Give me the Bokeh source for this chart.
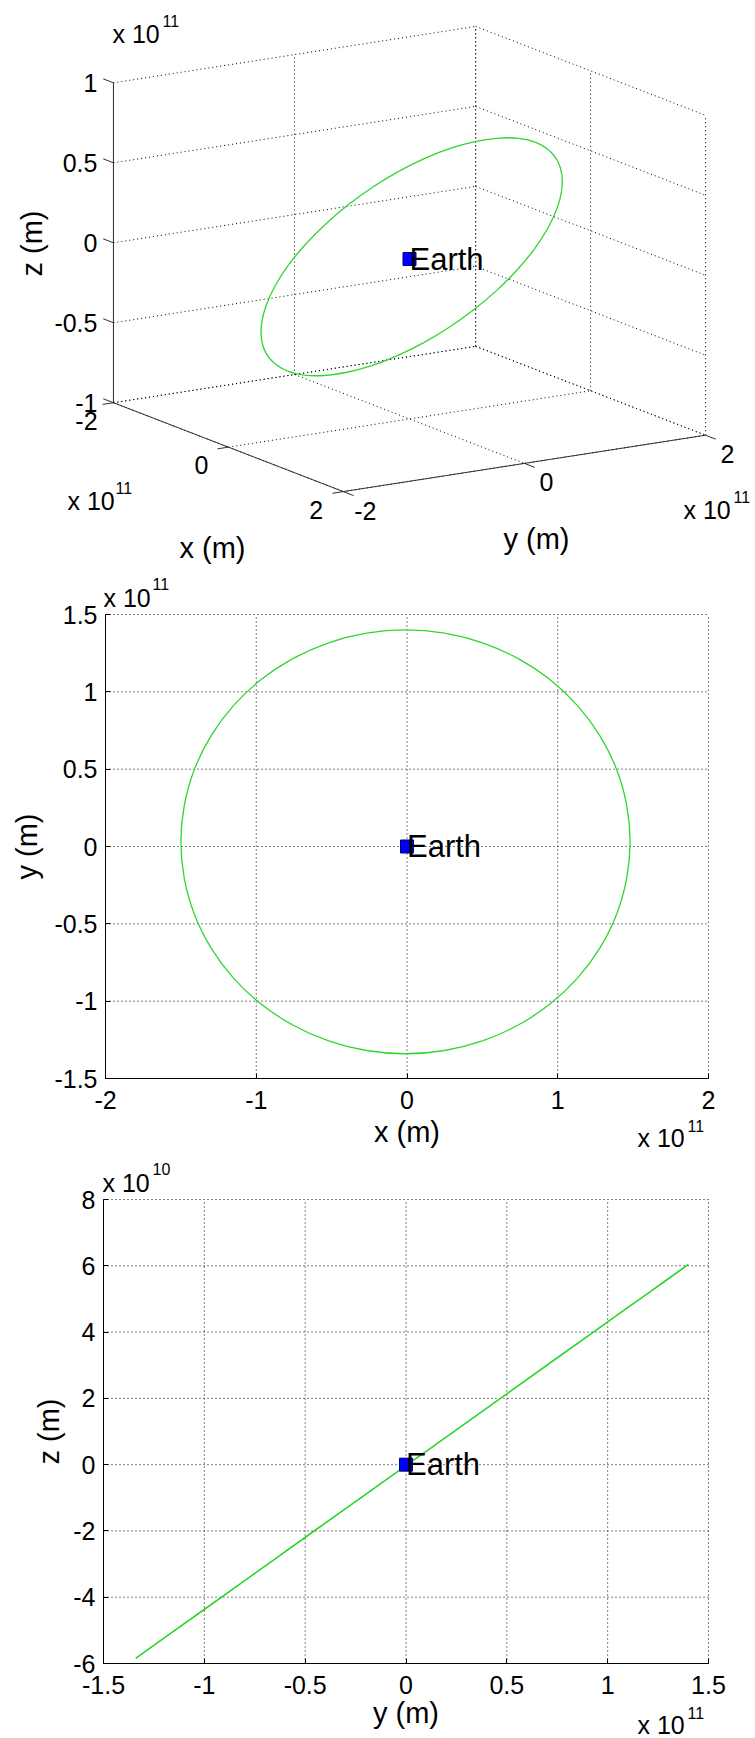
import math

from bokeh.core.properties import value
from bokeh.embed import file_html
from bokeh.layouts import column
from bokeh.models import FixedTicker, LinearAxis, Range1d
from bokeh.plotting import figure
from bokeh.resources import INLINE

FONT = "Liberation Sans"
GREEN = "#2ed62e"
BLUE = "#0000ff"

# Apparent path of the Sun around the Earth, geocentric equatorial frame,
# one position every ~10 degrees of arc (units of 1e11 m)
ORBIT_X = [1.480, 1.457, 1.390, 1.280, 1.131, 0.948, 0.735, 0.500, 0.249,
           -0.010, -0.269, -0.520, -0.755, -0.968, -1.151, -1.300, -1.410, -1.477,
           -1.500, -1.477, -1.410, -1.300, -1.151, -0.968, -0.755, -0.520, -0.269,
           -0.010, 0.249, 0.500, 0.735, 0.948, 1.131, 1.280, 1.390, 1.457]
ORBIT_Y = [0.030, 0.268, 0.499, 0.715, 0.911, 1.079, 1.216, 1.317, 1.379,
           1.400, 1.379, 1.317, 1.216, 1.079, 0.911, 0.715, 0.499, 0.268,
           0.030, -0.208, -0.439, -0.655, -0.851, -1.019, -1.156, -1.257, -1.319,
           -1.340, -1.319, -1.257, -1.156, -1.019, -0.851, -0.655, -0.439, -0.208]
ORBIT_Z = [0.010, 0.113, 0.213, 0.307, 0.392, 0.465, 0.524, 0.568, 0.595,
           0.604, 0.595, 0.568, 0.524, 0.465, 0.392, 0.307, 0.213, 0.113,
           0.010, -0.093, -0.193, -0.287, -0.372, -0.445, -0.504, -0.548, -0.575,
           -0.584, -0.575, -0.548, -0.504, -0.445, -0.372, -0.287, -0.193, -0.093]

EARTH = (0.0, 0.0, 0.0)
EARTH_NAME = "Earth"

# axis limits and ticks (1e11 m, except the z axis of the y-z view: 1e10 m)
P1_XLIM, P1_YLIM, P1_ZLIM = (-2, 2), (-2, 2), (-1, 1)
P1_X_TICKS = [-2, 0, 2]
P1_Y_TICKS = [-2, 0, 2]
P1_Z_TICKS = [-1, -0.5, 0, 0.5, 1]

P2_XLIM, P2_YLIM = (-2, 2), (-1.5, 1.5)
P2_X_TICKS = [-2, -1, 0, 1, 2]
P2_Y_TICKS = [-1.5, -1, -0.5, 0, 0.5, 1, 1.5]

P3_XLIM, P3_YLIM = (-1.5, 1.5), (-6, 8)
P3_X_TICKS = [-1.5, -1, -0.5, 0, 0.5, 1, 1.5]
P3_Y_TICKS = [-6, -4, -2, 0, 2, 4, 6, 8]
Z_TO_1E10 = 10

W = 755
H1, H2, H3 = 565, 585, 588

TICK_PX = "25px"
LABEL_PX = "29px"
EXP_PX = "25px"
SUP_PX = "16px"
NAME_PX = "31px"


def fmt(t):
    return f"{t:g}"


def smooth_closed(xs, ys):
    """Cubic Bezier pieces of a closed Catmull-Rom curve through the points."""
    n = len(xs)
    out = {k: [] for k in ("x0", "y0", "x1", "y1", "cx0", "cy0", "cx1", "cy1")}
    for i in range(n):
        a, b, c, d = (i - 1) % n, i, (i + 1) % n, (i + 2) % n
        out["x0"].append(xs[b])
        out["y0"].append(ys[b])
        out["x1"].append(xs[c])
        out["y1"].append(ys[c])
        out["cx0"].append(xs[b] + (xs[c] - xs[a]) / 6)
        out["cy0"].append(ys[b] + (ys[c] - ys[a]) / 6)
        out["cx1"].append(xs[c] - (xs[d] - xs[b]) / 6)
        out["cy1"].append(ys[c] - (ys[d] - ys[b]) / 6)
    return out


def txt(p, x, y, s, size, align="left", angle=0.0):
    p.text(x=[x], y=[y], text=[s], angle=angle, text_font=value(FONT), text_font_size=size,
           text_align=align, text_baseline="middle", text_color="black")


def bare_figure(height, x_range, y_range):
    p = figure(width=W, height=height, x_range=x_range, y_range=y_range,
               output_backend="svg", toolbar_location=None, min_border=0,
               x_axis_location=None, y_axis_location=None)
    p.grid.visible = False
    p.outline_line_color = None
    return p


# ---------------------------------------------------------------- 3-D view
AZ, EL = math.radians(57.6), math.radians(14.2)
BOX_L, BOX_LZ = 429.0, 330.0
CX, CY = 409.0, 258.5


def proj(x, y, z):
    u = (x - sum(P1_XLIM) / 2) / (P1_XLIM[1] - P1_XLIM[0])
    v = (y - sum(P1_YLIM) / 2) / (P1_YLIM[1] - P1_YLIM[0])
    w = (z - sum(P1_ZLIM) / 2) / (P1_ZLIM[1] - P1_ZLIM[0])
    sx = CX + BOX_L * (u * math.cos(AZ) + v * math.sin(AZ))
    depth = -u * math.sin(AZ) + v * math.cos(AZ)
    sy = CY - BOX_L * depth * math.sin(EL) - BOX_LZ * w * math.cos(EL)
    return sx, sy


def seg(a, b):
    pa, pb = proj(*a), proj(*b)
    return [pa[0], pb[0]], [pa[1], pb[1]]


p1 = bare_figure(H1, Range1d(0, W), Range1d(H1, 0))

x0, x1 = P1_XLIM
y0, y1 = P1_YLIM
z0, z1 = P1_ZLIM
grid_xs, grid_ys = [], []
for a, b in (
    [((x0, y0, z), (x0, y1, z)) for z in P1_Z_TICKS]
    + [((x0, y, z0), (x0, y, z1)) for y in P1_Y_TICKS]
    + [((x0, y1, z), (x1, y1, z)) for z in P1_Z_TICKS]
    + [((x, y1, z0), (x, y1, z1)) for x in P1_X_TICKS]
    + [((x, y0, z0), (x, y1, z0)) for x in P1_X_TICKS]
    + [((x0, y, z0), (x1, y, z0)) for y in P1_Y_TICKS]
):
    xs, ys = seg(a, b)
    grid_xs.append(xs)
    grid_ys.append(ys)
p1.multi_line(grid_xs, grid_ys, line_color="black", line_width=1, line_dash="1 3")

axis_xs, axis_ys = [], []
for a, b in [((x0, y0, z0), (x0, y0, z1)),
             ((x0, y0, z0), (x1, y0, z0)),
             ((x1, y0, z0), (x1, y1, z0))]:
    xs, ys = seg(a, b)
    axis_xs.append(xs)
    axis_ys.append(ys)
p1.multi_line(axis_xs, axis_ys, line_color="#303030", line_width=1)


def unit_dir(dx, dy, dz):
    a = proj(0, 0, 0)
    b = proj(dx, dy, dz)
    n = math.hypot(b[0] - a[0], b[1] - a[1])
    return (b[0] - a[0]) / n, (b[1] - a[1]) / n


TICK_LEN = 11
tick_xs, tick_ys = [], []
for ticks, point, direction in (
    (P1_Z_TICKS, lambda t: (x0, y0, t), unit_dir(-1, 0, 0)),
    (P1_X_TICKS, lambda t: (t, y0, z0), unit_dir(0, -1, 0)),
    (P1_Y_TICKS, lambda t: (x1, t, z0), unit_dir(1, 0, 0)),
):
    for t in ticks:
        sx, sy = proj(*point(t))
        tick_xs.append([sx, sx + direction[0] * TICK_LEN])
        tick_ys.append([sy, sy + direction[1] * TICK_LEN])
p1.multi_line(tick_xs, tick_ys, line_color="#303030", line_width=1)

# tick labels
for ticks, point, (dx, dy), align in (
    (P1_Z_TICKS, lambda t: (x0, y0, t), (-16, 0), "right"),
    (P1_X_TICKS, lambda t: (t, y0, z0), (-27, 18), "center"),
    (P1_Y_TICKS, lambda t: (x1, t, z0), (22, 19), "center"),
):
    pts = [proj(*point(t)) for t in ticks]
    p1.text(x=[p[0] + dx for p in pts], y=[p[1] + dy for p in pts], text=[fmt(t) for t in ticks],
            text_font=value(FONT), text_font_size=TICK_PX, text_align=align,
            text_baseline="middle", text_color="black")

# exponent notes of the 3-D axes
for (lx, ly), (sx, sy) in (((112, 33), (162, 20)),
                           ((67, 500), (115, 487)),
                           ((683, 509), (733, 496))):
    txt(p1, lx, ly, "x 10", EXP_PX)
    txt(p1, sx, sy, "11", SUP_PX)

# axis titles
txt(p1, 31, 243, "z (m)", LABEL_PX, "center", math.pi / 2)
txt(p1, 212, 547, "x (m)", LABEL_PX, "center")
txt(p1, 536, 538, "y (m)", LABEL_PX, "center")

orbit_pts = [proj(x, y, z) for x, y, z in zip(ORBIT_X, ORBIT_Y, ORBIT_Z)]
p1.bezier(**smooth_closed([p[0] for p in orbit_pts], [p[1] for p in orbit_pts]),
          line_color=GREEN, line_width=1.3)
ex, ey = proj(*EARTH)
p1.scatter([ex], [ey], marker="square", size=13, fill_color=BLUE, line_color="#000080")
txt(p1, ex, ey, EARTH_NAME, NAME_PX)


# ---------------------------------------------------------------- 2-D views
def make_plane(height, box, xlim, ylim, xticks, yticks, xlabel, ylabel,
               xlab_standoff, ylab_standoff):
    """Axes drawn at the data limits; the frame fills the whole figure."""
    left, right, top, bottom = box
    ux = (xlim[1] - xlim[0]) / (right - left)
    uy = (ylim[1] - ylim[0]) / (bottom - top)
    xr = Range1d(xlim[0] - left * ux, xlim[1] + (W - right) * ux)
    yr = Range1d(ylim[0] - (height - bottom) * uy, ylim[1] + top * uy)
    p = bare_figure(height, xr, yr)

    gx = [[t, t] for t in xticks] + [[xlim[0], xlim[1]] for _ in yticks]
    gy = [[ylim[0], ylim[1]] for _ in xticks] + [[t, t] for t in yticks]
    p.multi_line(gx, gy, line_color="black", line_width=1, line_dash="1 3")

    xaxis = LinearAxis(fixed_location=ylim[0], bounds=xlim, ticker=FixedTicker(ticks=xticks),
                       axis_label=xlabel)
    yaxis = LinearAxis(fixed_location=xlim[0], bounds=ylim, ticker=FixedTicker(ticks=yticks),
                       axis_label=ylabel)
    xaxis.major_label_overrides = {t: fmt(t) for t in xticks}
    yaxis.major_label_overrides = {t: fmt(t) for t in yticks}
    for ax in (xaxis, yaxis):
        ax.axis_line_color = "black"
        ax.axis_line_width = 1
        ax.major_tick_in = 5
        ax.major_tick_out = 0
        ax.major_tick_line_color = "black"
        ax.minor_tick_line_color = None
        ax.major_label_text_font = FONT
        ax.major_label_text_font_size = TICK_PX
        ax.major_label_text_color = "black"
        ax.axis_label_text_font = FONT
        ax.axis_label_text_font_size = LABEL_PX
        ax.axis_label_text_font_style = "normal"
        ax.axis_label_text_color = "black"
    xaxis.major_label_standoff = 12
    yaxis.major_label_standoff = 8
    xaxis.axis_label_standoff = xlab_standoff
    yaxis.axis_label_standoff = ylab_standoff
    p.add_layout(xaxis, "below")
    p.add_layout(yaxis, "left")

    def at(px, py):
        return xr.start + px * ux, yr.end - py * uy

    return p, at


# x-y plane
p2, at2 = make_plane(H2, (105, 708, 49, 513), P2_XLIM, P2_YLIM, P2_X_TICKS, P2_Y_TICKS,
                     "x (m)", "y (m)", 4, 8)
p2.bezier(**smooth_closed(ORBIT_X, ORBIT_Y), line_color=GREEN, line_width=1.3)
p2.scatter([EARTH[0]], [EARTH[1]], marker="square", size=13, fill_color=BLUE, line_color="#000080")
txt(p2, EARTH[0], EARTH[1], EARTH_NAME, NAME_PX)
for (bx, by), (sx, sy) in (((103, 32), (152, 18)), ((637, 572), (687, 560))):
    txt(p2, *at2(bx, by), "x 10", EXP_PX)
    txt(p2, *at2(sx, sy), "11", SUP_PX)

# y-z plane
P3_Z = [z * Z_TO_1E10 for z in ORBIT_Z]
p3, at3 = make_plane(H3, (103, 708, 49, 513), P3_XLIM, P3_YLIM, P3_X_TICKS, P3_Y_TICKS,
                     "y (m)", "z (m)", 0, 5)
p3.bezier(**smooth_closed(ORBIT_Y, P3_Z), line_color=GREEN, line_width=1.3)
p3.scatter([EARTH[1]], [EARTH[2]], marker="square", size=13, fill_color=BLUE, line_color="#000080")
txt(p3, EARTH[1], EARTH[2], EARTH_NAME, NAME_PX)
for (bx, by), (sx, sy), sup in (((102, 32), (152, 18), "10"), ((637, 574), (687, 562), "11")):
    txt(p3, *at3(bx, by), "x 10", EXP_PX)
    txt(p3, *at3(sx, sy), sup, SUP_PX)

layout = column(p1, p2, p3, spacing=0)
open("out.html", "w").write(file_html(layout, INLINE))
